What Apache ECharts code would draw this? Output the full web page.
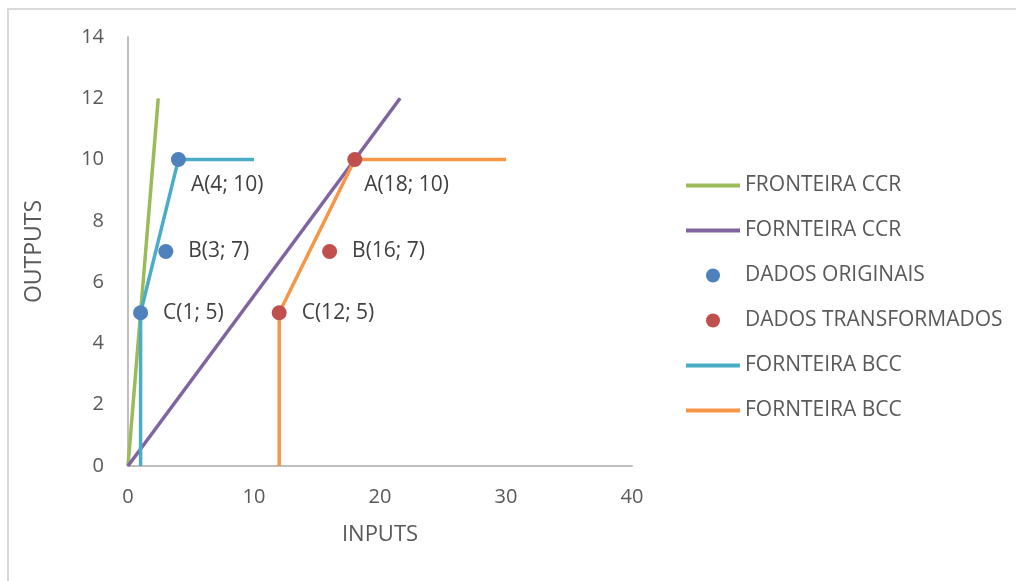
<!DOCTYPE html>
<html>
<head>
<meta charset="utf-8">
<script src="https://cdn.jsdelivr.net/npm/echarts@6/dist/echarts.min.js"></script>
<style>
  html, body { margin: 0; padding: 0; background: #fff; }
  #frame { position: absolute; left: 7px; top: 8px; width: 1020px; height: 590px;
           border-top: 2px solid #d9d9d9; border-left: 2px solid #d9d9d9; }
  #main { position: absolute; left: 0; top: 0; width: 1016px; height: 581px; }
</style>
</head>
<body>
<div id="frame"></div>
<div id="main"></div>
<script>
// dados
var ccrVerde = [[0, 0], [2.4, 12]];
var ccrRoxo = [[0, 0], [21.6, 12]];
var bccOriginal = [[1, 0], [1, 5], [4, 10], [10, 10]];
var bccTransf = [[12, 0], [12, 5], [18, 10], [30, 10]];
var originaisX = [4, 3, 1];
var originaisY = [10, 7, 5];
var originaisRot = ['A(4; 10)', 'B(3; 7)', 'C(1; 5)'];
var transfX = [18, 16, 12];
var transfY = [10, 7, 5];
var transfRot = ['A(18; 10)', 'B(16; 7)', 'C(12; 5)'];

var fonte = '"Open Sans", sans-serif';
// ícone de linha simples na legenda (sem o círculo)
var iconeLinha = 'path://M0,0M0,5L54,5L54,9L0,9ZM54,14';

function pontos(xs, ys, rots, distA) {
    return xs.map(function (x, i) {
        var item = { value: [x, ys[i]], name: rots[i] };
        // o ponto A tem o rótulo abaixo à direita
        if (i === 0) {
            item.label = { distance: distA, offset: [0, 25] };
        }
        return item;
    });
}

var rotulo = {
    show: true,
    position: 'right',
    distance: 15,
    formatter: '{b}',
    color: '#404040',
    fontSize: 21,
    fontFamily: fonte
};

var myChart = echarts.init(document.getElementById('main'));
myChart.setOption({
    animation: false,
    grid: { left: 128, right: 384, top: 37, bottom: 115 },
    xAxis: {
        type: 'value', min: 0, max: 40, interval: 10,
        name: 'INPUTS', nameLocation: 'middle', nameGap: 58,
        nameTextStyle: { color: '#595959', fontSize: 22, fontFamily: fonte },
        axisLine: { lineStyle: { color: '#bfbfbf', width: 2 } },
        axisTick: { show: false },
        splitLine: { show: false },
        axisLabel: { color: '#595959', fontSize: 20, fontFamily: fonte, margin: 21 }
    },
    yAxis: {
        type: 'value', min: 0, max: 14, interval: 2,
        name: 'OUTPUTS', nameLocation: 'middle', nameGap: 82,
        nameTextStyle: { color: '#595959', fontSize: 23, fontFamily: fonte },
        axisLine: { show: true, lineStyle: { color: '#bfbfbf', width: 2 } },
        axisTick: { show: false },
        splitLine: { show: false },
        axisLabel: { color: '#595959', fontSize: 20, fontFamily: fonte, margin: 24 }
    },
    legend: {
        orient: 'vertical', left: 681, top: 170,
        itemWidth: 54, itemHeight: 14, itemGap: 24,
        textStyle: { color: '#595959', fontSize: 21, fontFamily: fonte },
        data: [
            { name: 'FRONTEIRA CCR', icon: iconeLinha },
            { name: 'FORNTEIRA CCR', icon: iconeLinha },
            { name: 'DADOS ORIGINAIS' },
            { name: 'DADOS TRANSFORMADOS' },
            { name: 'FORNTEIRA BCC ', icon: iconeLinha },
            { name: 'FORNTEIRA BCC', icon: iconeLinha }
        ]
    },
    series: [
        { name: 'FRONTEIRA CCR', type: 'line', data: ccrVerde, symbol: 'none',
          lineStyle: { color: '#9bbb59', width: 3.5 }, itemStyle: { color: '#9bbb59' } },
        { name: 'FORNTEIRA CCR', type: 'line', data: ccrRoxo, symbol: 'none',
          lineStyle: { color: '#8064a2', width: 3.5 }, itemStyle: { color: '#8064a2' } },
        { name: 'FORNTEIRA BCC ', type: 'line', data: bccOriginal, symbol: 'none',
          lineStyle: { color: '#4bacc6', width: 3.5 }, itemStyle: { color: '#4bacc6' } },
        { name: 'FORNTEIRA BCC', type: 'line', data: bccTransf, symbol: 'none',
          lineStyle: { color: '#f79646', width: 3.5 }, itemStyle: { color: '#f79646' } },
        { name: 'DADOS ORIGINAIS', type: 'scatter', symbolSize: 15, z: 5,
          itemStyle: { color: '#4f81bd', opacity: 1 }, label: rotulo,
          data: pontos(originaisX, originaisY, originaisRot, 5) },
        { name: 'DADOS TRANSFORMADOS', type: 'scatter', symbolSize: 15, z: 5,
          itemStyle: { color: '#c0504d', opacity: 1 }, label: rotulo,
          data: pontos(transfX, transfY, transfRot, 2) }
    ]
});
</script>
</body>
</html>
